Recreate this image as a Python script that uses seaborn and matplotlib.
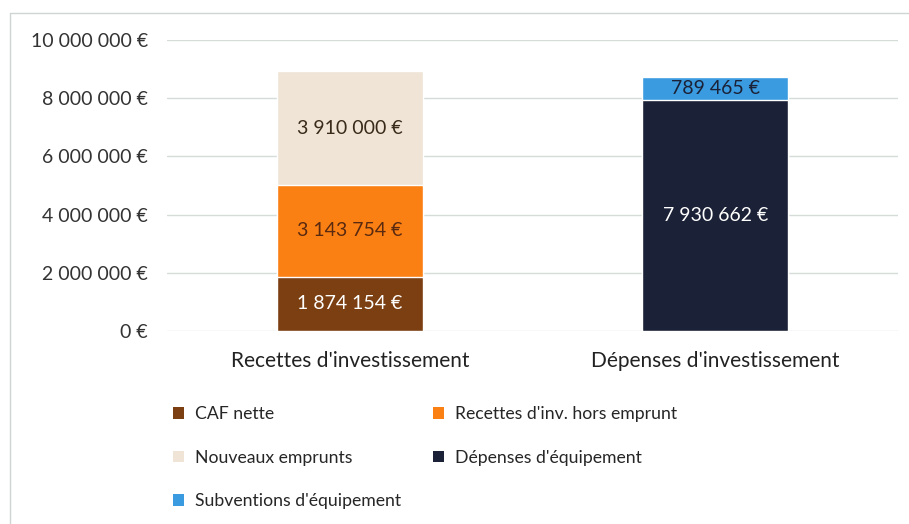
import matplotlib
matplotlib.use("Agg")
import matplotlib.pyplot as plt
from matplotlib.patches import Patch
from matplotlib.lines import Line2D
import seaborn as sns
import pandas as pd

categories = ["Recettes d'investissement", "Dépenses d'investissement"]
series = ["CAF nette", "Recettes d'inv. hors emprunt", "Nouveaux emprunts",
          "Dépenses d'équipement", "Subventions d'équipement"]
series_cat = [0, 0, 0, 1, 1]
values = [1874154, 3143754, 3910000, 7930662, 789465]
colors = ["#7b3f12", "#fb8013", "#efe4d6", "#1b2136", "#3a9be0"]
label_colors = ["#ffffff", "#5a2a10", "#3a2a1a", "#ffffff", "#1b2136"]
yticks = [0, 2000000, 4000000, 6000000, 8000000, 10000000]

sns.set_theme(style="white")
plt.rcParams["font.family"] = ["Lato", "DejaVu Sans"]


def fmt(v):
    return f"{v:,.0f}".replace(",", " ") + " €"


rows = []
cum = {0: 0, 1: 0}
for s, c, v in zip(series, series_cat, values):
    bottom = cum[c]
    cum[c] += v
    rows.append(dict(series=s, category=categories[c], value=v,
                     bottom=bottom, top=cum[c]))
df = pd.DataFrame(rows)

fig = plt.figure(figsize=(9.09, 5.24), dpi=100)
ax = fig.add_axes([0.184, 0.368, 0.804, 0.556])

# draw stacked bars: highest layers first, lower layers over them
order_draw = df.sort_values("top", ascending=False).index
for i in order_draw:
    sub = df.loc[[i]]
    sns.barplot(data=sub, x="category", y="top", order=categories,
                color=colors[i], saturation=1, width=0.4, ax=ax, zorder=2)

for i, r in df.iterrows():
    xpos = categories.index(r["category"])
    ax.text(xpos, r["bottom"] + r["value"] / 2, fmt(r["value"]),
            ha="center", va="center", fontsize=14, color=label_colors[i],
            zorder=3)

ax.set_xlim(-0.5, 1.5)
ax.set_ylim(0, 10000000)
ax.set_yticks(yticks)
ax.set_yticklabels([fmt(v) for v in yticks], fontsize=14, color="#333333")
ax.tick_params(axis="x", labelsize=15, colors="#222222", pad=14, length=0)
ax.tick_params(axis="y", length=0, pad=14)
ax.set_xlabel("")
ax.set_ylabel("")
ax.grid(axis="y", color="#d5ddd8", linewidth=1, zorder=0)
ax.set_axisbelow(True)
for sp in ax.spines.values():
    sp.set_visible(False)

# chart frame (left and top edges visible in the reference)
frame_color = "#cfd6d2"
fig.add_artist(Line2D([0.011, 0.011], [0.0, 0.975], transform=fig.transFigure,
                      color=frame_color, linewidth=1))
fig.add_artist(Line2D([0.011, 1.0], [0.975, 0.975], transform=fig.transFigure,
                      color=frame_color, linewidth=1))

handles = [Patch(facecolor=colors[i], edgecolor="none") for i in range(5)]
leg_order = [0, 2, 4, 1, 3]
fig.legend([handles[i] for i in leg_order], [series[i] for i in leg_order],
           ncol=2, loc="upper left", bbox_to_anchor=(0.19, 0.225),
           frameon=False, fontsize=12.7, handlelength=0.65, handleheight=0.65,
           handletextpad=0.6, labelspacing=1.56, columnspacing=1.8,
           borderpad=0, borderaxespad=0)

fig.savefig("out.png", dpi=100, facecolor="white")
